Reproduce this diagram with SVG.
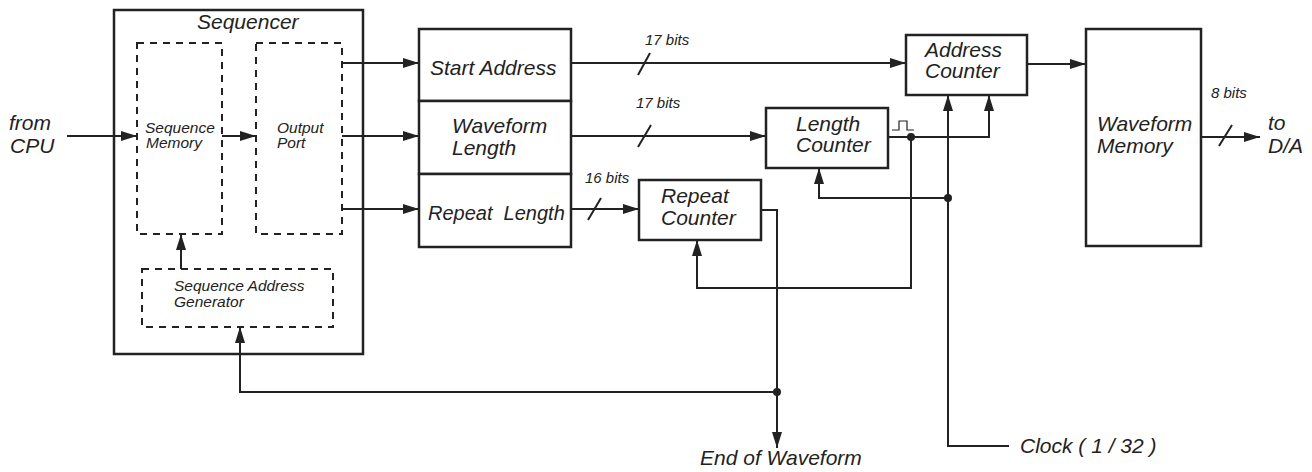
<svg xmlns="http://www.w3.org/2000/svg" width="1312" height="472" viewBox="0 0 1312 472">
<style>
text{font-family:"Liberation Sans",Arial,sans-serif;font-style:italic;fill:#222;white-space:pre}
.big{font-size:21px}
.mid{font-size:15.5px}
.sm{font-size:15px}
.box{fill:#fff;stroke:#222;stroke-width:2.5}
.dash{fill:none;stroke:#222;stroke-width:2;stroke-dasharray:7 6}
.wire{fill:none;stroke:#222;stroke-width:2}
.thin{fill:none;stroke:#222;stroke-width:1.2}
.dot{fill:#222}
</style>
<defs>
<marker id="ah" markerUnits="userSpaceOnUse" markerWidth="16" markerHeight="10" refX="16" refY="5" orient="auto">
<path d="M0,0 L16,5 L0,10 z" fill="#222"/>
</marker>
</defs>
<rect width="1312" height="472" fill="#fff"/>

<g id="sequencer">
<rect class="box" x="114" y="10" width="249" height="344"/>
<text class="big" x="197" y="29">Sequencer</text>
</g>
<g id="sequence-memory">
<rect class="dash" x="137" y="43" width="85" height="191"/>
<text class="mid" x="145" y="133">Sequence</text>
<text class="mid" x="146" y="148">Memory</text>
</g>
<g id="output-port">
<rect class="dash" x="256" y="43" width="86" height="191"/>
<text class="mid" x="277" y="133">Output</text>
<text class="mid" x="277" y="148">Port</text>
</g>
<g id="sequence-address-generator">
<rect class="dash" x="142" y="269" width="191" height="58"/>
<text class="mid" x="174" y="291">Sequence Address</text>
<text class="mid" x="174" y="307">Generator</text>
</g>
<g id="start-address">
<rect class="box" x="419" y="29" width="152" height="72"/>
<text class="big" x="430" y="75">Start Address</text>
</g>
<g id="waveform-length">
<rect class="box" x="419" y="101" width="152" height="73"/>
<text class="big" x="452" y="133">Waveform</text>
<text class="big" x="452" y="155">Length</text>
</g>
<g id="repeat-length">
<rect class="box" x="419" y="174" width="152" height="73"/>
<text class="big" x="428" y="220" style="font-size:20px" xml:space="preserve">Repeat  Length</text>
</g>
<g id="address-counter">
<rect class="box" x="906" y="35" width="121" height="60"/>
<text class="big" x="925" y="57">Address</text>
<text class="big" x="925" y="78">Counter</text>
</g>
<g id="length-counter">
<rect class="box" x="766" y="108" width="122" height="60"/>
<text class="big" x="796" y="131">Length</text>
<text class="big" x="796" y="152">Counter</text>
</g>
<g id="repeat-counter">
<rect class="box" x="639" y="180" width="122" height="60"/>
<text class="big" x="661" y="203">Repeat</text>
<text class="big" x="661" y="225">Counter</text>
</g>
<g id="waveform-memory">
<rect class="box" x="1086" y="29" width="115" height="217"/>
<text class="big" x="1097" y="131">Waveform</text>
<text class="big" x="1097" y="153">Memory</text>
</g>
<g id="from-cpu">
<text class="big" x="9" y="130">from</text>
<text class="big" x="10" y="153">CPU</text>
</g>
<g id="to-da">
<text class="big" x="1268" y="130">to</text>
<text class="big" x="1268" y="153">D/A</text>
</g>
<g id="end-of-waveform">
<text class="big" x="700" y="465">End of Waveform</text>
</g>
<g id="clock">
<text class="big" x="1020" y="453">Clock ( 1 / 32 )</text>
</g>

<g id="connectors">
<path class="wire" d="M67,136 H137" marker-end="url(#ah)"/>
<path class="wire" d="M222,136 H256" marker-end="url(#ah)"/>
<path class="wire" d="M342,63 H419" marker-end="url(#ah)"/>
<path class="wire" d="M342,136 H419" marker-end="url(#ah)"/>
<path class="wire" d="M342,209 H419" marker-end="url(#ah)"/>
<path class="wire" d="M181,269 V234" marker-end="url(#ah)"/>
<path class="wire" d="M571,63 H906" marker-end="url(#ah)"/>
<path class="wire" d="M571,136 H766" marker-end="url(#ah)"/>
<path class="wire" d="M571,209 H639" marker-end="url(#ah)"/>
<path class="wire" d="M1027,64 H1086" marker-end="url(#ah)"/>
<path class="wire" d="M1201,137 H1260" marker-end="url(#ah)"/>
<path class="wire" d="M888,137 H989 V95" marker-end="url(#ah)"/>
<path class="wire" d="M1009,446 H948 V95" marker-end="url(#ah)"/>
<path class="wire" d="M948,198 H819 V168" marker-end="url(#ah)"/>
<path class="wire" d="M911,137 V288 H697 V240" marker-end="url(#ah)"/>
<path class="wire" d="M761,210 H777 V448" marker-end="url(#ah)"/>
<path class="wire" d="M777,392 H240 V327" marker-end="url(#ah)"/>
<path class="wire" d="M638,75 L650,53"/>
<path class="wire" d="M638,147 L651,125"/>
<path class="wire" d="M588,220 L601,198"/>
<path class="wire" d="M1219,146 L1232,125"/>
<path class="thin" d="M892,130 H899 V121 H907 V130 H914"/>
<circle class="dot" cx="911" cy="137" r="4"/>
<circle class="dot" cx="948" cy="198" r="4"/>
<circle class="dot" cx="777" cy="392" r="4"/>
<text class="sm" x="645" y="45">17 bits</text>
<text class="sm" x="636" y="108">17 bits</text>
<text class="sm" x="585" y="183">16 bits</text>
<text class="sm" x="1211" y="98">8 bits</text>
</g>
</svg>
